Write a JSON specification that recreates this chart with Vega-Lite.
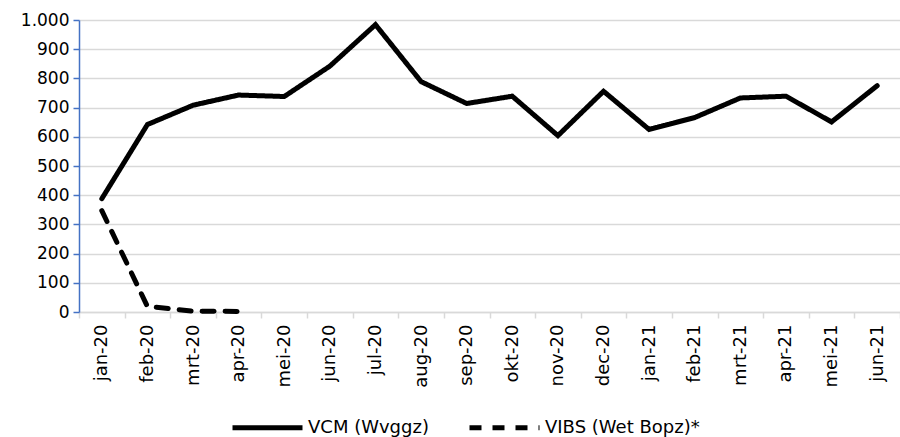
{
  "$schema": "https://vega.github.io/schema/vega-lite/v6.json",
  "autosize": "none",
  "width": 821,
  "height": 292,
  "padding": {"left": 79, "top": 20, "right": 0, "bottom": 125},
  "background": "white",
  "config": {
    "view": {"stroke": null},
    "font": "DejaVu Sans",
    "axis": {"labelFont": "DejaVu Sans", "labelColor": "#000000", "titleFont": "DejaVu Sans"},
    "legend": {"labelFont": "DejaVu Sans"}
  },
  "data": {
    "values": [
      {"maand": "jan-20", "reeks": "VCM (Wvggz)", "waarde": 388},
      {"maand": "feb-20", "reeks": "VCM (Wvggz)", "waarde": 642},
      {"maand": "mrt-20", "reeks": "VCM (Wvggz)", "waarde": 708},
      {"maand": "apr-20", "reeks": "VCM (Wvggz)", "waarde": 743},
      {"maand": "mei-20", "reeks": "VCM (Wvggz)", "waarde": 738},
      {"maand": "jun-20", "reeks": "VCM (Wvggz)", "waarde": 842},
      {"maand": "jul-20", "reeks": "VCM (Wvggz)", "waarde": 984},
      {"maand": "aug-20", "reeks": "VCM (Wvggz)", "waarde": 789},
      {"maand": "sep-20", "reeks": "VCM (Wvggz)", "waarde": 714},
      {"maand": "okt-20", "reeks": "VCM (Wvggz)", "waarde": 739},
      {"maand": "nov-20", "reeks": "VCM (Wvggz)", "waarde": 604},
      {"maand": "dec-20", "reeks": "VCM (Wvggz)", "waarde": 756},
      {"maand": "jan-21", "reeks": "VCM (Wvggz)", "waarde": 625},
      {"maand": "feb-21", "reeks": "VCM (Wvggz)", "waarde": 666},
      {"maand": "mrt-21", "reeks": "VCM (Wvggz)", "waarde": 733},
      {"maand": "apr-21", "reeks": "VCM (Wvggz)", "waarde": 739},
      {"maand": "mei-21", "reeks": "VCM (Wvggz)", "waarde": 651},
      {"maand": "jun-21", "reeks": "VCM (Wvggz)", "waarde": 775},
      {"maand": "jan-20", "reeks": "VIBS (Wet Bopz)*", "waarde": 347},
      {"maand": "feb-20", "reeks": "VIBS (Wet Bopz)*", "waarde": 19},
      {"maand": "mrt-20", "reeks": "VIBS (Wet Bopz)*", "waarde": 3},
      {"maand": "apr-20", "reeks": "VIBS (Wet Bopz)*", "waarde": 2}
    ]
  },
  "mark": {"type": "line", "strokeWidth": 5, "strokeCap": "round", "strokeJoin": "miter"},
  "encoding": {
    "x": {
      "field": "maand",
      "type": "ordinal",
      "sort": ["jan-20","feb-20","mrt-20","apr-20","mei-20","jun-20","jul-20","aug-20","sep-20","okt-20","nov-20","dec-20","jan-21","feb-21","mrt-21","apr-21","mei-21","jun-21"],
      "bandPosition": 0.5,
      "scale": {"type": "band", "paddingInner": 0, "paddingOuter": 0},
      "axis": {
        "title": null,
        "labelAngle": -90,
        "labelFontSize": 18,
        "labelPadding": 6,
        "tickBand": "extent",
        "ticks": true,
        "tickColor": "#d9d9d9",
        "tickSize": 6,
        "tickWidth": 1.5,
        "domainColor": "#d9d9d9",
        "domainWidth": 1.5,
        "grid": false
      }
    },
    "y": {
      "field": "waarde",
      "type": "quantitative",
      "scale": {"domain": [0, 1000], "nice": false},
      "axis": {
        "title": null,
        "values": [0, 100, 200, 300, 400, 500, 600, 700, 800, 900, 1000],
        "labelExpr": "datum.value >= 1000 ? '1.000' : datum.label",
        "labelFontSize": 17,
        "labelPadding": 4,
        "tickColor": "#4472C4",
        "tickSize": 6,
        "tickWidth": 1.5,
        "domainColor": "#4472C4",
        "domainWidth": 1.5,
        "grid": true,
        "gridColor": "#d9d9d9",
        "gridWidth": 1.5
      }
    },
    "color": {
      "field": "reeks",
      "type": "nominal",
      "scale": {"range": ["#000000", "#000000"]},
      "legend": {
        "title": null,
        "orient": "none",
        "direction": "horizontal",
        "legendX": 151,
        "legendY": 370,
        "padding": 0,
        "symbolType": "stroke",
        "symbolSize": 4900,
        "symbolStrokeWidth": 5,
        "labelFontSize": 18,
        "labelOffset": 3,
        "columnPadding": 30
      }
    },
    "strokeDash": {
      "field": "reeks",
      "type": "nominal",
      "scale": {"range": [[1, 0], [12, 11]]},
      "legend": null
    }
  }
}
